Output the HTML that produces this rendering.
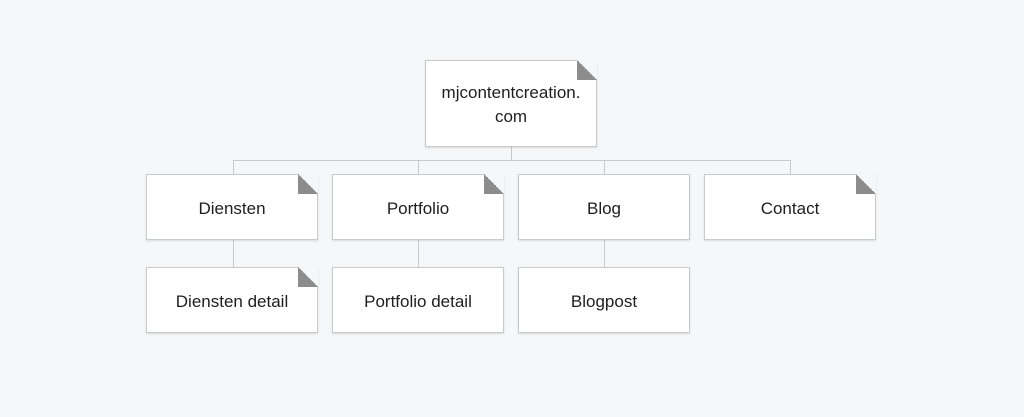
<!DOCTYPE html>
<html><head><style>
body{margin:0;width:1024px;height:417px;background:#f6f7f9;position:relative;overflow:hidden;font-family:"Liberation Sans","DejaVu Sans",sans-serif;}
.b{position:absolute;background:#fff;border:1px solid #c9cacc;box-shadow:0 1px 2px rgba(0,0,0,.12);box-sizing:border-box;display:flex;align-items:center;justify-content:center;text-align:center;font-size:17px;color:#1e1e1e;line-height:24px;padding-top:3px}
.f::after{content:"";position:absolute;right:-1px;top:-1px;width:20px;height:20px;background:linear-gradient(to bottom left,#f6f7f9 50%,#8c8c8c 50%)}
.l{position:absolute;background:#c9cacc}
</style></head><body>
<div class="l" style="left:511px;top:146px;width:1px;height:15px"></div>
<div class="l" style="left:233px;top:160px;width:558px;height:1px"></div>
<div class="l" style="left:233px;top:160px;width:1px;height:14px"></div>
<div class="l" style="left:418px;top:160px;width:1px;height:14px"></div>
<div class="l" style="left:604px;top:160px;width:1px;height:14px"></div>
<div class="l" style="left:790px;top:160px;width:1px;height:14px"></div>
<div class="l" style="left:233px;top:239px;width:1px;height:28px"></div>
<div class="l" style="left:418px;top:239px;width:1px;height:28px"></div>
<div class="l" style="left:604px;top:239px;width:1px;height:28px"></div>
<div class="b f" style="left:425px;top:60px;width:172px;height:87px">mjcontentcreation.<br>com</div>
<div class="b f" style="left:146px;top:174px;width:172px;height:66px">Diensten</div>
<div class="b f" style="left:332px;top:174px;width:172px;height:66px">Portfolio</div>
<div class="b" style="left:518px;top:174px;width:172px;height:66px">Blog</div>
<div class="b f" style="left:704px;top:174px;width:172px;height:66px">Contact</div>
<div class="b f" style="left:146px;top:267px;width:172px;height:66px">Diensten detail</div>
<div class="b" style="left:332px;top:267px;width:172px;height:66px">Portfolio detail</div>
<div class="b" style="left:518px;top:267px;width:172px;height:66px">Blogpost</div>
</body></html>
